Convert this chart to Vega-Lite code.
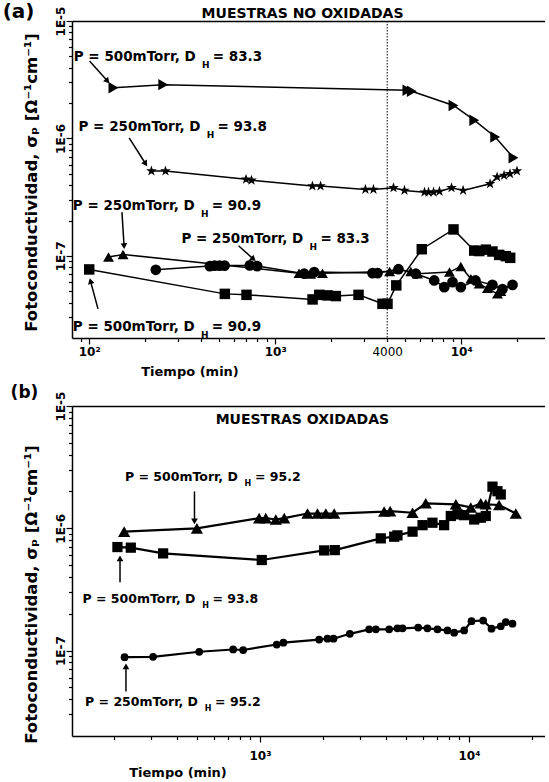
{
  "$schema": "https://vega.github.io/schema/vega-lite/v6.json",
  "padding": {"left": 2, "top": 2, "right": 0, "bottom": 0},
  "spacing": 6,
  "background": "white",
  "resolve": {"scale": {"shape": "independent", "size": "independent"}},
  "config": {
    "view": {"stroke": null},
    "font": "DejaVu Sans",
    "axis": {"grid": false, "domainColor": "black", "domainWidth": 1.5, "tickColor": "black", "tickWidth": 1.2, "labelColor": "black", "titleColor": "black", "labelFont": "DejaVu Sans", "titleFont": "DejaVu Sans"}
  },
  "datasets": {
    "ser_a": [
      {"s": "tri_r", "t": 135, "v": 2.70e-6}, {"s": "tri_r", "t": 250, "v": 2.87e-6}, {"s": "tri_r", "t": 5140, "v": 2.57e-6}, {"s": "tri_r", "t": 5425, "v": 2.52e-6}, {"s": "tri_r", "t": 9090, "v": 1.91e-6}, {"s": "tri_r", "t": 11750, "v": 1.43e-6}, {"s": "tri_r", "t": 15230, "v": 1.03e-6}, {"s": "tri_r", "t": 19100, "v": 6.85e-7},
      {"s": "star", "t": 216, "v": 5.28e-7}, {"s": "star", "t": 257, "v": 5.28e-7}, {"s": "star", "t": 697, "v": 4.49e-7}, {"s": "star", "t": 746, "v": 4.40e-7}, {"s": "star", "t": 1585, "v": 3.93e-7}, {"s": "star", "t": 1753, "v": 3.93e-7}, {"s": "star", "t": 3055, "v": 3.68e-7}, {"s": "star", "t": 3375, "v": 3.68e-7}, {"s": "star", "t": 4325, "v": 3.80e-7}, {"s": "star", "t": 4955, "v": 3.61e-7}, {"s": "star", "t": 6350, "v": 3.49e-7}, {"s": "star", "t": 6670, "v": 3.49e-7}, {"s": "star", "t": 7100, "v": 3.49e-7}, {"s": "star", "t": 7640, "v": 3.54e-7}, {"s": "star", "t": 8870, "v": 3.80e-7}, {"s": "star", "t": 10240, "v": 3.61e-7}, {"s": "star", "t": 14300, "v": 4.11e-7}, {"s": "star", "t": 15600, "v": 4.69e-7}, {"s": "star", "t": 17000, "v": 4.85e-7}, {"s": "star", "t": 18300, "v": 5.00e-7}, {"s": "star", "t": 19950, "v": 5.28e-7},
      {"s": "tri_u", "t": 127, "v": 9.77e-8}, {"s": "tri_u", "t": 152, "v": 1.03e-7}, {"s": "tri_u", "t": 1343, "v": 7.13e-8}, {"s": "tri_u", "t": 1549, "v": 7.00e-8}, {"s": "tri_u", "t": 1795, "v": 7.13e-8}, {"s": "tri_u", "t": 4120, "v": 7.35e-8}, {"s": "tri_u", "t": 4490, "v": 7.72e-8}, {"s": "tri_u", "t": 5360, "v": 7.35e-8}, {"s": "tri_u", "t": 5820, "v": 7.05e-8}, {"s": "tri_u", "t": 8650, "v": 7.28e-8}, {"s": "tri_u", "t": 9950, "v": 8.14e-8}, {"s": "tri_u", "t": 11270, "v": 6.38e-8}, {"s": "tri_u", "t": 12500, "v": 5.78e-8}, {"s": "tri_u", "t": 13840, "v": 5.30e-8}, {"s": "tri_u", "t": 15670, "v": 4.75e-8}, {"s": "tri_u", "t": 16330, "v": 4.99e-8},
      {"s": "circ", "t": 228, "v": 7.62e-8}, {"s": "circ", "t": 445, "v": 8.19e-8}, {"s": "circ", "t": 472, "v": 8.27e-8}, {"s": "circ", "t": 502, "v": 8.27e-8}, {"s": "circ", "t": 534, "v": 8.27e-8}, {"s": "circ", "t": 730, "v": 8.30e-8}, {"s": "circ", "t": 800, "v": 8.19e-8}, {"s": "circ", "t": 1432, "v": 7.05e-8}, {"s": "circ", "t": 1621, "v": 7.28e-8}, {"s": "circ", "t": 3335, "v": 7.14e-8}, {"s": "circ", "t": 3550, "v": 7.14e-8}, {"s": "circ", "t": 4600, "v": 7.71e-8}, {"s": "circ", "t": 5700, "v": 7.05e-8}, {"s": "circ", "t": 7160, "v": 6.18e-8}, {"s": "circ", "t": 8110, "v": 5.42e-8}, {"s": "circ", "t": 8980, "v": 5.98e-8}, {"s": "circ", "t": 9950, "v": 5.42e-8}, {"s": "circ", "t": 11930, "v": 6.18e-8}, {"s": "circ", "t": 14720, "v": 5.67e-8}, {"s": "circ", "t": 16670, "v": 5.21e-8}, {"s": "circ", "t": 18880, "v": 5.67e-8},
      {"s": "sq", "t": 100, "v": 7.67e-8}, {"s": "sq", "t": 536, "v": 4.75e-8}, {"s": "sq", "t": 701, "v": 4.66e-8}, {"s": "sq", "t": 1588, "v": 4.26e-8}, {"s": "sq", "t": 1726, "v": 4.66e-8}, {"s": "sq", "t": 1911, "v": 4.61e-8}, {"s": "sq", "t": 2118, "v": 4.55e-8}, {"s": "sq", "t": 2805, "v": 4.66e-8}, {"s": "sq", "t": 3773, "v": 3.91e-8}, {"s": "sq", "t": 4015, "v": 3.91e-8}, {"s": "sq", "t": 4477, "v": 5.61e-8}, {"s": "sq", "t": 6140, "v": 1.14e-7}, {"s": "sq", "t": 9090, "v": 1.68e-7}, {"s": "sq", "t": 11750, "v": 1.11e-7}, {"s": "sq", "t": 12500, "v": 1.10e-7}, {"s": "sq", "t": 13560, "v": 1.13e-7}, {"s": "sq", "t": 14720, "v": 1.09e-7}, {"s": "sq", "t": 16000, "v": 1.02e-7}, {"s": "sq", "t": 17370, "v": 9.95e-8}, {"s": "sq", "t": 18340, "v": 9.63e-8}
    ],
    "ser_b": [
      {"s": "btri", "t": 224, "v": 9.38e-7}, {"s": "btri", "t": 499, "v": 9.98e-7}, {"s": "btri", "t": 991, "v": 1.21e-6}, {"s": "btri", "t": 1066, "v": 1.21e-6}, {"s": "btri", "t": 1191, "v": 1.18e-6}, {"s": "btri", "t": 1306, "v": 1.21e-6}, {"s": "btri", "t": 1688, "v": 1.32e-6}, {"s": "btri", "t": 1884, "v": 1.32e-6}, {"s": "btri", "t": 2065, "v": 1.32e-6}, {"s": "btri", "t": 2265, "v": 1.32e-6}, {"s": "btri", "t": 3927, "v": 1.37e-6}, {"s": "btri", "t": 4198, "v": 1.38e-6}, {"s": "btri", "t": 5370, "v": 1.34e-6}, {"s": "btri", "t": 6210, "v": 1.60e-6}, {"s": "btri", "t": 8650, "v": 1.57e-6}, {"s": "btri", "t": 10200, "v": 1.48e-6}, {"s": "btri", "t": 11380, "v": 1.60e-6}, {"s": "btri", "t": 12030, "v": 1.57e-6}, {"s": "btri", "t": 13930, "v": 1.55e-6}, {"s": "btri", "t": 16750, "v": 1.32e-6},
      {"s": "bsq", "t": 208, "v": 7.02e-7}, {"s": "bsq", "t": 241, "v": 6.94e-7}, {"s": "bsq", "t": 344, "v": 6.23e-7}, {"s": "bsq", "t": 1020, "v": 5.50e-7}, {"s": "bsq", "t": 2028, "v": 6.59e-7}, {"s": "bsq", "t": 2280, "v": 6.63e-7}, {"s": "bsq", "t": 3784, "v": 8.27e-7}, {"s": "bsq", "t": 4387, "v": 8.53e-7}, {"s": "bsq", "t": 4547, "v": 8.75e-7}, {"s": "bsq", "t": 5370, "v": 9.38e-7}, {"s": "bsq", "t": 5995, "v": 1.06e-6}, {"s": "bsq", "t": 6686, "v": 1.11e-6}, {"s": "bsq", "t": 7605, "v": 1.06e-6}, {"s": "bsq", "t": 8185, "v": 1.26e-6}, {"s": "bsq", "t": 8810, "v": 1.30e-6}, {"s": "bsq", "t": 9480, "v": 1.28e-6}, {"s": "bsq", "t": 10590, "v": 1.18e-6}, {"s": "bsq", "t": 11380, "v": 1.22e-6}, {"s": "bsq", "t": 12030, "v": 1.26e-6}, {"s": "bsq", "t": 12950, "v": 2.19e-6}, {"s": "bsq", "t": 13680, "v": 2.01e-6}, {"s": "bsq", "t": 14190, "v": 1.89e-6},
      {"s": "bcirc", "t": 225, "v": 8.83e-8}, {"s": "bcirc", "t": 308, "v": 8.89e-8}, {"s": "bcirc", "t": 512, "v": 9.77e-8}, {"s": "bcirc", "t": 744, "v": 1.02e-7}, {"s": "bcirc", "t": 831, "v": 1.01e-7}, {"s": "bcirc", "t": 1203, "v": 1.12e-7}, {"s": "bcirc", "t": 1295, "v": 1.16e-7}, {"s": "bcirc", "t": 1919, "v": 1.23e-7}, {"s": "bcirc", "t": 2103, "v": 1.25e-7}, {"s": "bcirc", "t": 2248, "v": 1.25e-7}, {"s": "bcirc", "t": 2690, "v": 1.37e-7}, {"s": "bcirc", "t": 3328, "v": 1.49e-7}, {"s": "bcirc", "t": 3582, "v": 1.49e-7}, {"s": "bcirc", "t": 4150, "v": 1.49e-7}, {"s": "bcirc", "t": 4547, "v": 1.52e-7}, {"s": "bcirc", "t": 4807, "v": 1.52e-7}, {"s": "bcirc", "t": 5715, "v": 1.54e-7}, {"s": "bcirc", "t": 6326, "v": 1.52e-7}, {"s": "bcirc", "t": 7066, "v": 1.49e-7}, {"s": "bcirc", "t": 7888, "v": 1.46e-7}, {"s": "bcirc", "t": 8494, "v": 1.40e-7}, {"s": "bcirc", "t": 9480, "v": 1.46e-7}, {"s": "bcirc", "t": 10280, "v": 1.74e-7}, {"s": "bcirc", "t": 11690, "v": 1.76e-7}, {"s": "bcirc", "t": 12810, "v": 1.51e-7}, {"s": "bcirc", "t": 14190, "v": 1.58e-7}, {"s": "bcirc", "t": 15000, "v": 1.71e-7}, {"s": "bcirc", "t": 16150, "v": 1.66e-7}
    ],
    "arr_a": [
      {"id": "a1", "t1": 100.4, "v1": 4.56e-6, "t2": 125.4, "v2": 3.08e-6},
      {"id": "a2", "t1": 164, "v1": 1.01e-6, "t2": 201, "v2": 6.09e-7},
      {"id": "a3", "t1": 150, "v1": 2.36e-7, "t2": 154, "v2": 1.21e-7},
      {"id": "a4", "t1": 635, "v1": 1.22e-7, "t2": 764, "v2": 9.39e-8},
      {"id": "a5", "t1": 111.5, "v1": 3.54e-8, "t2": 101.6, "v2": 6.10e-8}
    ],
    "arr_b": [
      {"id": "b6", "t1": 486, "v1": 2.00e-6, "t2": 486, "v2": 1.14e-6},
      {"id": "b7", "t1": 214, "v1": 3.61e-7, "t2": 214, "v2": 5.67e-7},
      {"id": "b8", "t1": 228.5, "v1": 4.63e-8, "t2": 228.5, "v2": 7.41e-8}
    ],
    "lab_a": [
      {"t": 82.6, "v": 4.94e-6, "pre": "P = 500mTorr, D", "post": "= 83.3"},
      {"t": 87.6, "v": 1.24e-6, "pre": "P = 250mTorr, D", "post": "= 93.8"},
      {"t": 81.6, "v": 2.66e-7, "pre": "P = 250mTorr, D", "post": "= 90.9"},
      {"t": 313, "v": 1.40e-7, "pre": "P = 250mTorr, D", "post": "= 83.3"},
      {"t": 81.6, "v": 2.47e-8, "pre": "P = 500mTorr, D", "post": "= 90.9"}
    ],
    "lab_b": [
      {"t": 226, "v": 2.61e-6, "pre": "P = 500mTorr, D", "post": "= 95.2"},
      {"t": 141.6, "v": 2.62e-7, "pre": "P = 500mTorr, D", "post": "= 93.8"},
      {"t": 145.6, "v": 3.76e-8, "pre": "P = 250mTorr, D", "post": "= 95.2"}
    ]
  },
  "vconcat": [
    {
      "width": 473,
      "height": 317,
      "resolve": {"axis": {"x": "independent", "y": "independent"}},
      "layer": [
        {
          "data": {"values": [{"t": 4000}]},
          "mark": {"type": "rule", "strokeDash": [1.5, 1.5], "strokeWidth": 1, "color": "black"},
          "encoding": {
            "x": {"field": "t", "type": "quantitative", "scale": {"type": "log", "domain": [80.8, 28220], "nice": false}, "axis": {"orient": "top", "values": [], "labels": false, "ticks": false, "title": null, "domain": true}}
          }
        },
        {
          "data": {"name": "ser_a"},
          "mark": {"type": "line", "color": "black", "strokeWidth": 1.5},
          "encoding": {
            "x": {"field": "t", "type": "quantitative", "scale": {"type": "log", "domain": [80.8, 28220], "nice": false},
              "axis": {"orient": "bottom", "values": [100, 1000, 4000, 10000], "labelExpr": "datum.value == 100 ? '10²' : datum.value == 1000 ? '10³' : datum.value == 10000 ? '10⁴' : '4000'", "tickSize": 6, "tickOpacity": {"condition": {"test": "datum.value == 4000", "value": 0}, "value": 1}, "labelFontSize": 12, "labelFontWeight": {"condition": {"test": "datum.value == 4000", "value": "normal"}, "value": "bold"}, "labelPadding": 2, "labelFlush": false, "labelOverlap": false, "title": "Tiempo (min)", "titleFontSize": 13, "titleFontWeight": "bold", "titleX": 117.5, "titleY": 33, "titleAlign": "center", "titleBaseline": "middle"}},
            "y": {"field": "v", "type": "quantitative", "scale": {"type": "log", "domain": [2e-8, 1e-5], "nice": false},
              "axis": {"orient": "left", "values": [1e-5, 1e-6, 1e-7], "labelExpr": "'1E' + round(log(datum.value)/LN10)", "labelAngle": -90, "labelAlign": "center", "labelBaseline": "alphabetic", "labelFontSize": 12, "labelFontWeight": "bold", "labelPadding": 2, "tickSize": 6, "labelFlush": false, "labelOverlap": false, "title": "Fotoconductividad, σₚ [Ω⁻¹cm⁻¹]", "titleFontSize": 16.5, "titleFontWeight": "bold", "titleAngle": -90, "titleX": -36, "titleY": 161, "titleAlign": "center", "titleBaseline": "alphabetic"}},
            "detail": {"field": "s"}
          }
        },
        {
          "data": {"name": "ser_a"},
          "mark": {"type": "point", "filled": true, "color": "black", "opacity": 1, "strokeWidth": 0},
          "encoding": {
            "x": {"field": "t", "type": "quantitative", "scale": {"type": "log", "domain": [80.8, 28220], "nice": false},
              "axis": {"orient": "bottom", "values": [90, 200, 300, 400, 500, 600, 700, 800, 900, 2000, 3000, 4000, 5000, 6000, 7000, 8000, 9000, 20000], "labels": false, "domain": false, "tickSize": 3.5, "title": null}},
            "y": {"field": "v", "type": "quantitative", "scale": {"type": "log", "domain": [2e-8, 1e-5], "nice": false},
              "axis": {"orient": "left", "values": [3e-8, 4e-8, 5e-8, 6e-8, 7e-8, 8e-8, 9e-8, 2e-7, 3e-7, 4e-7, 5e-7, 6e-7, 7e-7, 8e-7, 9e-7, 2e-6, 3e-6, 4e-6, 5e-6, 6e-6, 7e-6, 8e-6, 9e-6], "labels": false, "domain": false, "tickSize": 3.5, "title": null}},
            "shape": {"field": "s", "type": "nominal", "legend": null, "scale": {"domain": ["tri_r", "star", "tri_u", "circ", "sq"], "range": ["triangle-right", "M0,-1L0.225,-0.309L0.951,-0.309L0.363,0.118L0.588,0.809L0,0.382L-0.588,0.809L-0.363,0.118L-0.951,-0.309L-0.225,-0.309Z", "triangle-up", "circle", "square"]}},
            "size": {"field": "s", "type": "nominal", "legend": null, "scale": {"domain": ["tri_r", "star", "tri_u", "circ", "sq"], "range": [130, 110, 100, 50, 45]}}
          }
        },
        {
          "data": {"name": "arr_a"},
          "mark": {"type": "rule", "color": "black", "strokeWidth": 1.5},
          "encoding": {
            "x": {"field": "t1", "type": "quantitative", "scale": {"type": "log", "domain": [80.8, 28220], "nice": false}, "axis": null},
            "y": {"field": "v1", "type": "quantitative", "scale": {"type": "log", "domain": [2e-8, 1e-5], "nice": false}, "axis": null},
            "x2": {"field": "t2"},
            "y2": {"field": "v2"}
          }
        },
        {
          "data": {"name": "arr_a"},
          "transform": [{"filter": "datum.id == 'a1'"}],
          "mark": {"type": "point", "shape": "triangle-up", "angle": 138, "filled": true, "color": "black", "opacity": 1, "size": 45},
          "encoding": {
            "x": {"field": "t2", "type": "quantitative", "scale": {"type": "log", "domain": [80.8, 28220], "nice": false}, "axis": null},
            "y": {"field": "v2", "type": "quantitative", "scale": {"type": "log", "domain": [2e-8, 1e-5], "nice": false}, "axis": null}
          }
        },
        {
          "data": {"name": "arr_a"},
          "transform": [{"filter": "datum.id == 'a2'"}],
          "mark": {"type": "point", "shape": "triangle-up", "angle": 147, "filled": true, "color": "black", "opacity": 1, "size": 45},
          "encoding": {
            "x": {"field": "t2", "type": "quantitative", "scale": {"type": "log", "domain": [80.8, 28220], "nice": false}, "axis": null},
            "y": {"field": "v2", "type": "quantitative", "scale": {"type": "log", "domain": [2e-8, 1e-5], "nice": false}, "axis": null}
          }
        },
        {
          "data": {"name": "arr_a"},
          "transform": [{"filter": "datum.id == 'a3'"}],
          "mark": {"type": "point", "shape": "triangle-up", "angle": 177, "filled": true, "color": "black", "opacity": 1, "size": 45},
          "encoding": {
            "x": {"field": "t2", "type": "quantitative", "scale": {"type": "log", "domain": [80.8, 28220], "nice": false}, "axis": null},
            "y": {"field": "v2", "type": "quantitative", "scale": {"type": "log", "domain": [2e-8, 1e-5], "nice": false}, "axis": null}
          }
        },
        {
          "data": {"name": "arr_a"},
          "transform": [{"filter": "datum.id == 'a4'"}],
          "mark": {"type": "point", "shape": "triangle-up", "angle": 132, "filled": true, "color": "black", "opacity": 1, "size": 45},
          "encoding": {
            "x": {"field": "t2", "type": "quantitative", "scale": {"type": "log", "domain": [80.8, 28220], "nice": false}, "axis": null},
            "y": {"field": "v2", "type": "quantitative", "scale": {"type": "log", "domain": [2e-8, 1e-5], "nice": false}, "axis": null}
          }
        },
        {
          "data": {"name": "arr_a"},
          "transform": [{"filter": "datum.id == 'a5'"}],
          "mark": {"type": "point", "shape": "triangle-up", "angle": 345, "filled": true, "color": "black", "opacity": 1, "size": 45},
          "encoding": {
            "x": {"field": "t2", "type": "quantitative", "scale": {"type": "log", "domain": [80.8, 28220], "nice": false}, "axis": null},
            "y": {"field": "v2", "type": "quantitative", "scale": {"type": "log", "domain": [2e-8, 1e-5], "nice": false}, "axis": null}
          }
        },
        {
          "data": {"name": "lab_a"},
          "mark": {"type": "text", "align": "left", "baseline": "middle", "fontSize": 13.5, "fontWeight": "bold", "color": "black"},
          "encoding": {
            "x": {"field": "t", "type": "quantitative", "scale": {"type": "log", "domain": [80.8, 28220], "nice": false}, "axis": null},
            "y": {"field": "v", "type": "quantitative", "scale": {"type": "log", "domain": [2e-8, 1e-5], "nice": false}, "axis": null},
            "text": {"field": "pre"}
          }
        },
        {
          "data": {"name": "lab_a"},
          "mark": {"type": "text", "align": "center", "baseline": "middle", "fontSize": 9, "fontWeight": "bold", "color": "black", "dx": 132, "dy": 8},
          "encoding": {
            "x": {"field": "t", "type": "quantitative", "scale": {"type": "log", "domain": [80.8, 28220], "nice": false}, "axis": null},
            "y": {"field": "v", "type": "quantitative", "scale": {"type": "log", "domain": [2e-8, 1e-5], "nice": false}, "axis": null},
            "text": {"value": "H"}
          }
        },
        {
          "data": {"name": "lab_a"},
          "mark": {"type": "text", "align": "left", "baseline": "middle", "fontSize": 13.5, "fontWeight": "bold", "color": "black", "dx": 139},
          "encoding": {
            "x": {"field": "t", "type": "quantitative", "scale": {"type": "log", "domain": [80.8, 28220], "nice": false}, "axis": null},
            "y": {"field": "v", "type": "quantitative", "scale": {"type": "log", "domain": [2e-8, 1e-5], "nice": false}, "axis": null},
            "text": {"field": "post"}
          }
        },
        {
          "data": {"values": [{"t": 41.7, "v": 1.19e-5, "txt": "(a)"}]},
          "mark": {"type": "text", "align": "center", "baseline": "middle", "fontSize": 20, "fontWeight": "bold", "color": "black"},
          "encoding": {
            "x": {"field": "t", "type": "quantitative", "scale": {"type": "log", "domain": [80.8, 28220], "nice": false}, "axis": null},
            "y": {"field": "v", "type": "quantitative", "scale": {"type": "log", "domain": [2e-8, 1e-5], "nice": false}, "axis": null},
            "text": {"field": "txt"}
          }
        },
        {
          "data": {"values": [{"t": 1403, "v": 1.147e-5, "txt": "MUESTRAS NO OXIDADAS"}]},
          "mark": {"type": "text", "align": "center", "baseline": "middle", "fontSize": 14, "fontWeight": "bold", "color": "black"},
          "encoding": {
            "x": {"field": "t", "type": "quantitative", "scale": {"type": "log", "domain": [80.8, 28220], "nice": false}, "axis": null},
            "y": {"field": "v", "type": "quantitative", "scale": {"type": "log", "domain": [2e-8, 1e-5], "nice": false}, "axis": null},
            "text": {"field": "txt"}
          }
        }
      ]
    },
    {
      "width": 473,
      "height": 330,
      "resolve": {"axis": {"x": "independent", "y": "independent"}},
      "layer": [
        {
          "data": {"name": "ser_b"},
          "mark": {"type": "line", "color": "black", "strokeWidth": 2.2},
          "encoding": {
            "x": {"field": "t", "type": "quantitative", "scale": {"type": "log", "domain": [126.1, 23100], "nice": false},
              "axis": {"orient": "bottom", "values": [1000, 10000], "labelExpr": "datum.value == 1000 ? '10³' : '10⁴'", "tickSize": 6, "labelFontSize": 12, "labelFontWeight": "bold", "labelPadding": 8, "labelFlush": false, "labelOverlap": false, "title": "Tiempo (min)", "titleFontSize": 13, "titleFontWeight": "bold", "titleX": 105.5, "titleY": 36, "titleAlign": "center", "titleBaseline": "middle"}},
            "y": {"field": "v", "type": "quantitative", "scale": {"type": "log", "domain": [2e-8, 1e-5], "nice": false},
              "axis": {"orient": "left", "values": [1e-5, 1e-6, 1e-7], "labelExpr": "'1E' + round(log(datum.value)/LN10)", "labelAngle": -90, "labelAlign": "center", "labelBaseline": "alphabetic", "labelFontSize": 12, "labelFontWeight": "bold", "labelPadding": 2, "tickSize": 6, "labelFlush": false, "labelOverlap": false, "title": "Fotoconductividad, σₚ [Ω⁻¹cm⁻¹]", "titleFontSize": 16.5, "titleFontWeight": "bold", "titleAngle": -90, "titleX": -36, "titleY": 188, "titleAlign": "center", "titleBaseline": "alphabetic"}},
            "detail": {"field": "s"}
          }
        },
        {
          "data": {"name": "ser_b"},
          "mark": {"type": "point", "filled": true, "color": "black", "opacity": 1, "strokeWidth": 0},
          "encoding": {
            "x": {"field": "t", "type": "quantitative", "scale": {"type": "log", "domain": [126.1, 23100], "nice": false},
              "axis": {"orient": "bottom", "values": [200, 300, 400, 500, 600, 700, 800, 900, 2000, 3000, 4000, 5000, 6000, 7000, 8000, 9000, 20000], "labels": false, "domain": false, "tickSize": 3.5, "title": null}},
            "y": {"field": "v", "type": "quantitative", "scale": {"type": "log", "domain": [2e-8, 1e-5], "nice": false},
              "axis": {"orient": "left", "values": [3e-8, 4e-8, 5e-8, 6e-8, 7e-8, 8e-8, 9e-8, 2e-7, 3e-7, 4e-7, 5e-7, 6e-7, 7e-7, 8e-7, 9e-7, 2e-6, 3e-6, 4e-6, 5e-6, 6e-6, 7e-6, 8e-6, 9e-6], "labels": false, "domain": false, "tickSize": 3.5, "title": null}},
            "shape": {"field": "s", "type": "nominal", "legend": null, "scale": {"domain": ["btri", "bsq", "bcirc"], "range": ["triangle-up", "square", "circle"]}},
            "size": {"field": "s", "type": "nominal", "legend": null, "scale": {"domain": ["btri", "bsq", "bcirc"], "range": [150, 60, 65]}}
          }
        },
        {
          "data": {"values": [{"t": 1000}]},
          "mark": {"type": "rule", "strokeWidth": 0, "opacity": 0},
          "encoding": {
            "x": {"field": "t", "type": "quantitative", "scale": {"type": "log", "domain": [126.1, 23100], "nice": false}, "axis": {"orient": "top", "values": [], "labels": false, "ticks": false, "title": null, "domain": true}}
          }
        },
        {
          "data": {"name": "arr_b"},
          "mark": {"type": "rule", "color": "black", "strokeWidth": 1.5},
          "encoding": {
            "x": {"field": "t1", "type": "quantitative", "scale": {"type": "log", "domain": [126.1, 23100], "nice": false}, "axis": null},
            "y": {"field": "v1", "type": "quantitative", "scale": {"type": "log", "domain": [2e-8, 1e-5], "nice": false}, "axis": null},
            "x2": {"field": "t2"},
            "y2": {"field": "v2"}
          }
        },
        {
          "data": {"name": "arr_b"},
          "transform": [{"filter": "datum.id == 'b6'"}],
          "mark": {"type": "point", "shape": "triangle-down", "filled": true, "color": "black", "opacity": 1, "size": 45},
          "encoding": {
            "x": {"field": "t2", "type": "quantitative", "scale": {"type": "log", "domain": [126.1, 23100], "nice": false}, "axis": null},
            "y": {"field": "v2", "type": "quantitative", "scale": {"type": "log", "domain": [2e-8, 1e-5], "nice": false}, "axis": null}
          }
        },
        {
          "data": {"name": "arr_b"},
          "transform": [{"filter": "datum.id != 'b6'"}],
          "mark": {"type": "point", "shape": "triangle-up", "filled": true, "color": "black", "opacity": 1, "size": 45},
          "encoding": {
            "x": {"field": "t2", "type": "quantitative", "scale": {"type": "log", "domain": [126.1, 23100], "nice": false}, "axis": null},
            "y": {"field": "v2", "type": "quantitative", "scale": {"type": "log", "domain": [2e-8, 1e-5], "nice": false}, "axis": null}
          }
        },
        {
          "data": {"name": "lab_b"},
          "mark": {"type": "text", "align": "left", "baseline": "middle", "fontSize": 12.5, "fontWeight": "bold", "color": "black"},
          "encoding": {
            "x": {"field": "t", "type": "quantitative", "scale": {"type": "log", "domain": [126.1, 23100], "nice": false}, "axis": null},
            "y": {"field": "v", "type": "quantitative", "scale": {"type": "log", "domain": [2e-8, 1e-5], "nice": false}, "axis": null},
            "text": {"field": "pre"}
          }
        },
        {
          "data": {"name": "lab_b"},
          "mark": {"type": "text", "align": "center", "baseline": "middle", "fontSize": 8, "fontWeight": "bold", "color": "black", "dx": 123, "dy": 7},
          "encoding": {
            "x": {"field": "t", "type": "quantitative", "scale": {"type": "log", "domain": [126.1, 23100], "nice": false}, "axis": null},
            "y": {"field": "v", "type": "quantitative", "scale": {"type": "log", "domain": [2e-8, 1e-5], "nice": false}, "axis": null},
            "text": {"value": "H"}
          }
        },
        {
          "data": {"name": "lab_b"},
          "mark": {"type": "text", "align": "left", "baseline": "middle", "fontSize": 12.5, "fontWeight": "bold", "color": "black", "dx": 130},
          "encoding": {
            "x": {"field": "t", "type": "quantitative", "scale": {"type": "log", "domain": [126.1, 23100], "nice": false}, "axis": null},
            "y": {"field": "v", "type": "quantitative", "scale": {"type": "log", "domain": [2e-8, 1e-5], "nice": false}, "axis": null},
            "text": {"field": "post"}
          }
        },
        {
          "data": {"values": [{"t": 74.7, "v": 1.27e-5, "txt": "(b)"}]},
          "mark": {"type": "text", "align": "center", "baseline": "middle", "fontSize": 17, "fontWeight": "bold", "color": "black"},
          "encoding": {
            "x": {"field": "t", "type": "quantitative", "scale": {"type": "log", "domain": [126.1, 23100], "nice": false}, "axis": null},
            "y": {"field": "v", "type": "quantitative", "scale": {"type": "log", "domain": [2e-8, 1e-5], "nice": false}, "axis": null},
            "text": {"field": "txt"}
          }
        },
        {
          "data": {"values": [{"t": 1596, "v": 7.64e-6, "txt": "MUESTRAS OXIDADAS"}]},
          "mark": {"type": "text", "align": "center", "baseline": "middle", "fontSize": 14, "fontWeight": "bold", "color": "black"},
          "encoding": {
            "x": {"field": "t", "type": "quantitative", "scale": {"type": "log", "domain": [126.1, 23100], "nice": false}, "axis": null},
            "y": {"field": "v", "type": "quantitative", "scale": {"type": "log", "domain": [2e-8, 1e-5], "nice": false}, "axis": null},
            "text": {"field": "txt"}
          }
        }
      ]
    }
  ]
}
